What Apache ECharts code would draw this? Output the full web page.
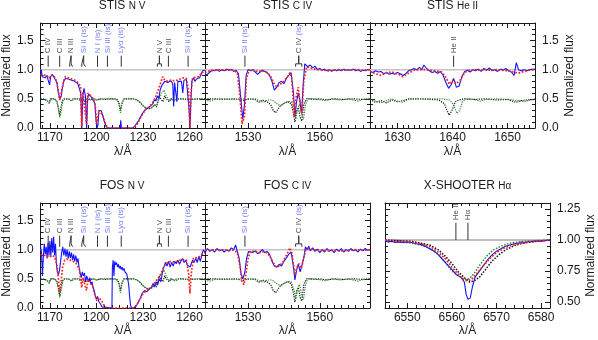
<!DOCTYPE html>
<html>
<head>
<meta charset="utf-8">
<script src="https://cdn.jsdelivr.net/npm/echarts@6/dist/echarts.min.js"></script>
<style>
  html, body { margin: 0; padding: 0; background: #fff; }
  #spectra { width: 598px; height: 340px; }
</style>
</head>
<body>
<div id="spectra"></div>
<script>
// ---- tick labels ----
const nvTicks = [1170, 1200, 1230, 1260];
const civTicks = [1530, 1560];
const heiiTicks = [1630, 1640, 1650];
const haTicks = [6550, 6560, 6570, 6580];
const fluxTicks = [0, 0.5, 1, 1.5];
const haFluxTicks = [0.5, 0.75, 1, 1.25];

// ---- STIS N V ----
const stisNvObs = [[1164,0.93],[1164.5,1.0],[1165,0.88],[1166,0.9],[1167,0.86],[1168,0.9],[1169,0.87],[1169.8,0.74],[1170.5,0.88],[1171.5,0.92],[1172.5,0.88],[1173.5,0.85],[1174.5,0.78],[1175.5,0.6],[1176.5,0.5],[1177.3,0.55],[1178,0.68],[1179,0.8],[1180,0.85],[1181,0.88],[1182,0.84],[1183,0.86],[1184,0.82],[1185,0.84],[1186,0.8],[1187,0.79],[1188,0.76],[1189,0.74],[1189.9,0.6],[1190.6,0.0],[1191.2,0.55],[1192,0.68],[1192.9,0.55],[1193.7,0.0],[1194.3,0.5],[1195,0.58],[1196,0.55],[1197,0.52],[1198,0.5],[1199,0.42],[1199.7,0.15],[1200.4,0.0],[1201,0.05],[1201.6,0.3],[1202.3,0.33],[1203,0.3],[1204,0.22],[1205,0.12],[1206,0.04],[1207,0.0],[1215.3,0.0],[1215.7,0.13],[1216.1,0.0],[1223.5,0.0],[1225,0.04],[1227,0.12],[1229,0.22],[1231,0.3],[1233,0.34],[1235,0.38],[1236.5,0.42],[1237.5,0.5],[1238.3,0.46],[1239.3,0.55],[1240.2,0.5],[1241,0.64],[1242,0.72],[1243,0.76],[1244,0.8],[1245,0.82],[1246,0.78],[1247,0.8],[1248,0.81],[1249.2,0.76],[1249.8,0.37],[1250.4,0.78],[1251.2,0.8],[1251.9,0.45],[1252.5,0.8],[1253.5,0.83],[1254.8,0.8],[1255.7,0.6],[1256.4,0.82],[1257.2,0.85],[1258,0.83],[1259,0.8],[1259.8,0.3],[1260.3,0.0],[1260.8,0.4],[1261.5,0.8],[1262.5,0.86],[1263.5,0.8],[1264.5,0.84],[1265.5,0.82],[1266.5,0.86],[1267.5,0.92],[1268.5,0.98],[1269.3,0.97],[1270,0.99]];
const stisNvFit = [[1164,0.9],[1166,0.91],[1168,0.9],[1169.5,0.85],[1170.5,0.9],[1172,0.9],[1173.5,0.86],[1174.5,0.78],[1175.5,0.62],[1176.3,0.48],[1177,0.55],[1178,0.7],[1179,0.82],[1180,0.88],[1182,0.86],[1184,0.84],[1186,0.82],[1188,0.78],[1189.7,0.72],[1190.5,0.03],[1191.3,0.62],[1192.4,0.63],[1193.6,0.07],[1194.4,0.6],[1196,0.56],[1198,0.5],[1199.2,0.4],[1200.1,0.07],[1200.9,0.1],[1201.7,0.3],[1202.6,0.33],[1204,0.22],[1205.5,0.1],[1207,0.0],[1224,0.0],[1226,0.05],[1228,0.15],[1230,0.25],[1232,0.33],[1234,0.36],[1236,0.42],[1238,0.52],[1240,0.66],[1241.5,0.78],[1242.7,0.88],[1244,0.82],[1246,0.8],[1248,0.82],[1250,0.81],[1252,0.82],[1254,0.84],[1256,0.86],[1258,0.85],[1259.5,0.6],[1260.3,0.0],[1261,0.6],[1262,0.86],[1264,0.87],[1266,0.88],[1268,0.95],[1270,0.97]];
// model spectra shifted to 0.5 (shared by STIS and FOS panels)
const nvModelBlack = [[1164,0.5],[1166,0.49],[1168,0.48],[1169.5,0.43],[1170.5,0.5],[1173,0.5],[1174.5,0.46],[1175.5,0.35],[1176.3,0.2],[1177,0.32],[1178,0.46],[1179,0.5],[1182,0.5],[1183.5,0.47],[1185,0.5],[1188,0.5],[1190,0.47],[1191.5,0.5],[1193,0.44],[1194,0.5],[1196,0.49],[1198,0.5],[1200,0.48],[1202,0.5],[1206,0.49],[1208,0.5],[1213,0.5],[1214.5,0.44],[1215.5,0.3],[1216.5,0.44],[1218,0.5],[1224,0.5],[1226,0.48],[1228,0.44],[1230,0.38],[1232,0.34],[1234,0.33],[1236,0.35],[1237.5,0.4],[1238.8,0.36],[1239.5,0.45],[1240.5,0.55],[1241.5,0.5],[1242.8,0.45],[1244,0.55],[1245,0.5],[1247,0.45],[1248,0.5],[1250,0.48],[1252,0.5],[1255,0.5],[1258,0.49],[1260,0.5],[1263,0.49],[1266,0.5],[1270,0.5]];
const nvModelGreen = [[1164,0.5],[1166,0.5],[1168,0.47],[1169.5,0.42],[1170.5,0.5],[1173,0.5],[1174.5,0.45],[1175.5,0.32],[1176.5,0.18],[1177.3,0.3],[1178.3,0.46],[1179.5,0.5],[1182,0.5],[1184,0.46],[1186,0.5],[1189,0.5],[1191,0.47],[1193,0.5],[1196,0.48],[1198,0.5],[1201,0.48],[1203,0.5],[1210,0.5],[1213.5,0.48],[1214.7,0.38],[1215.5,0.26],[1216.3,0.38],[1217.5,0.5],[1224,0.5],[1227,0.47],[1229,0.42],[1231,0.36],[1233,0.33],[1235,0.34],[1237,0.38],[1239,0.4],[1240.5,0.5],[1242,0.6],[1243.5,0.65],[1245,0.55],[1246.5,0.48],[1248,0.5],[1251,0.46],[1253,0.5],[1257,0.5],[1260,0.48],[1263,0.5],[1270,0.5]];

// ---- FOS N V ----
const fosNvObs = [[1164,1.05],[1164.6,0.95],[1165.2,0.55],[1165.8,0.9],[1166.4,1.1],[1167,0.92],[1167.6,1.05],[1168.2,0.85],[1168.8,1.12],[1169.4,0.9],[1170,1.15],[1170.6,0.88],[1171.2,1.2],[1171.8,0.95],[1172.4,1.22],[1173,0.9],[1173.6,1.1],[1174.2,0.75],[1174.8,0.62],[1175.5,0.57],[1176.2,0.65],[1176.9,0.8],[1177.6,0.95],[1178.3,1.05],[1179,0.9],[1179.7,1.02],[1180.4,0.88],[1181.1,1.0],[1181.8,0.85],[1182.5,0.97],[1183.2,0.86],[1183.9,0.95],[1184.6,0.82],[1185.3,0.92],[1186,0.8],[1186.7,0.9],[1187.4,0.78],[1188.1,0.85],[1188.8,0.7],[1189.5,0.6],[1190.2,0.52],[1190.9,0.62],[1191.6,0.55],[1192.3,0.6],[1193,0.45],[1193.7,0.55],[1194.4,0.5],[1195.1,0.45],[1195.8,0.52],[1196.5,0.4],[1197.2,0.45],[1197.9,0.35],[1198.6,0.3],[1199.3,0.2],[1200,0.15],[1200.7,0.2],[1201.4,0.12],[1202.1,0.1],[1202.8,0.06],[1203.5,0.02],[1204.5,0.0],[1210,0.0],[1210.3,0.7],[1210.8,0.82],[1211.3,0.55],[1211.8,0.8],[1212.4,0.74],[1213,0.78],[1213.6,0.7],[1214.2,0.75],[1214.8,0.68],[1215.4,0.72],[1216,0.66],[1216.6,0.7],[1217.2,0.64],[1217.8,0.68],[1218.4,0.62],[1219,0.64],[1219.6,0.58],[1220.2,0.55],[1220.8,0.4],[1221.4,0.2],[1222,0.05],[1222.6,0.0],[1224,0.0],[1226,0.05],[1228,0.15],[1229.5,0.25],[1231,0.3],[1232.5,0.28],[1234,0.32],[1235.5,0.35],[1236.5,0.42],[1237.5,0.36],[1238.5,0.45],[1239.5,0.4],[1240.5,0.5],[1241.5,0.45],[1242.5,0.6],[1243.5,0.7],[1244.5,0.78],[1245.5,0.72],[1246.5,0.8],[1247.5,0.7],[1248.5,0.78],[1249.5,0.72],[1250.5,0.8],[1251.5,0.76],[1252.5,0.82],[1253.5,0.75],[1254.5,0.8],[1255.5,0.85],[1256.5,0.78],[1257.5,0.82],[1258.5,0.74],[1259.5,0.75],[1260.3,0.7],[1261,0.75],[1262,0.82],[1263,0.78],[1264,0.85],[1265,0.78],[1266,0.88],[1267,0.8],[1268,0.92],[1269,1.0],[1270,0.95]];
const fosNvFit = [[1164,0.92],[1166,0.9],[1168,0.9],[1169.5,0.87],[1171,0.9],[1173,0.88],[1174.5,0.75],[1175.5,0.5],[1176.3,0.28],[1177.2,0.45],[1178.2,0.7],[1179.5,0.82],[1181,0.84],[1183,0.82],[1185,0.8],[1187,0.76],[1189,0.66],[1190.5,0.35],[1191.4,0.52],[1192.4,0.5],[1193.6,0.3],[1194.6,0.48],[1196,0.45],[1197.5,0.38],[1199,0.22],[1200.3,0.12],[1201.3,0.18],[1202.2,0.2],[1203.5,0.12],[1205,0.04],[1206.5,0.0],[1224,0.0],[1226,0.05],[1228,0.15],[1230,0.24],[1232,0.3],[1234,0.32],[1236,0.38],[1238,0.45],[1240,0.52],[1241.5,0.58],[1243,0.68],[1244.5,0.75],[1246,0.78],[1248,0.8],[1250,0.79],[1252,0.8],[1254,0.82],[1256,0.83],[1258,0.82],[1259.4,0.6],[1260.3,0.25],[1261.2,0.6],[1262.5,0.85],[1264,0.86],[1266,0.87],[1268,0.92],[1270,0.95]];

// ---- STIS / FOS C IV ----
const stisCivObs = [[1512,0.9],[1513,0.92],[1514,0.96],[1515,0.99],[1516,0.98],[1517,1.0],[1518,0.97],[1519,1.0],[1520,0.98],[1521,1.01],[1522,0.99],[1523,1.0],[1524,0.97],[1525,0.99],[1526,0.93],[1527,0.5],[1527.8,0.15],[1528.5,0.4],[1529.2,0.9],[1530,1.0],[1531,0.98],[1532,1.0],[1533,0.96],[1534,0.92],[1535,0.96],[1536,0.99],[1537,0.97],[1538,0.95],[1539,0.9],[1540,0.8],[1541,0.65],[1542,0.7],[1543,0.78],[1544,0.8],[1545,0.76],[1546,0.85],[1547,0.9],[1548,0.95],[1549,0.6],[1549.6,0.2],[1550.3,0.45],[1551,0.6],[1551.6,0.5],[1552.4,0.25],[1553,0.7],[1553.7,1.1],[1554.2,1.13],[1555,1.05],[1556,1.08],[1557,1.03],[1558,1.06],[1559,1.0],[1560,1.02],[1561,0.99],[1562,1.01],[1563,0.98],[1564,1.0],[1565,0.97],[1566,1.0],[1567,0.98],[1568,1.0],[1569,0.98],[1570,1.01],[1571,0.99],[1572,1.0],[1573,0.99],[1574,1.01],[1575,0.98],[1576,1.0],[1577,0.97],[1578,0.99],[1579,0.98],[1580,1.0],[1581,1.0]];
const stisCivFit = [[1512,0.95],[1514,0.98],[1516,0.99],[1518,1.0],[1520,0.99],[1522,1.0],[1524,0.99],[1525.5,0.95],[1526.5,0.6],[1527.5,0.07],[1528.5,0.2],[1529.3,0.85],[1530.5,0.99],[1532,0.99],[1534,0.97],[1536,0.98],[1538,0.95],[1539.5,0.88],[1541,0.75],[1542,0.7],[1543.5,0.75],[1545,0.8],[1546.5,0.88],[1547.5,0.95],[1548.3,0.85],[1549.3,0.2],[1550.2,0.55],[1551,0.7],[1551.8,0.4],[1552.5,0.25],[1553.3,0.8],[1554.5,1.05],[1556,1.03],[1558,1.01],[1560,1.0],[1562,0.99],[1564,0.98],[1566,0.99],[1568,1.0],[1570,0.99],[1572,0.99],[1574,1.0],[1576,1.0],[1578,0.99],[1581,1.0]];
const fosCivObs = [[1512,0.95],[1513,1.02],[1514,0.97],[1515,1.0],[1516,0.96],[1517,1.02],[1518,0.98],[1519,1.0],[1520,0.96],[1521,1.0],[1522,0.97],[1523,1.03],[1524,1.0],[1524.8,1.08],[1525.5,0.97],[1526.3,0.85],[1527,0.6],[1527.8,0.5],[1528.6,0.6],[1529.4,0.85],[1530.2,0.97],[1531,1.0],[1532,0.95],[1533,0.98],[1534,0.93],[1535,0.96],[1536,1.0],[1537,0.95],[1538,0.97],[1539,0.92],[1540,0.8],[1541,0.72],[1542,0.7],[1543,0.75],[1544,0.72],[1545,0.8],[1546,0.86],[1547,0.92],[1548,0.96],[1549,0.7],[1549.6,0.48],[1550.3,0.65],[1551,0.75],[1551.8,0.62],[1552.5,0.6],[1553.3,0.85],[1554,1.05],[1554.7,1.0],[1555.4,1.06],[1556,0.98],[1557,1.03],[1558,0.97],[1559,1.01],[1560,0.95],[1561,1.0],[1562,0.96],[1563,1.02],[1564,0.97],[1565,1.0],[1566,0.95],[1567,1.01],[1568,0.97],[1569,1.02],[1570,0.96],[1571,1.0],[1572,0.97],[1573,1.02],[1574,0.98],[1575,1.0],[1576,0.96],[1577,1.01],[1578,0.98],[1579,1.02],[1580,0.99],[1581,1.0]];
const fosCivFit = [[1512,1.0],[1514,0.99],[1516,1.0],[1518,0.99],[1520,1.0],[1522,0.99],[1524,0.99],[1525.5,0.95],[1526.5,0.75],[1527.5,0.45],[1528.3,0.4],[1529,0.55],[1530,0.85],[1531,0.97],[1533,0.97],[1535,0.95],[1537,0.97],[1539,0.9],[1540.5,0.78],[1541.8,0.7],[1543,0.72],[1544.5,0.78],[1546,0.9],[1547.5,1.03],[1548.3,0.95],[1549.6,0.57],[1550.5,0.7],[1551.3,0.76],[1552.3,0.68],[1553.2,0.85],[1554.2,1.0],[1555.5,1.02],[1557,1.0],[1560,0.99],[1563,0.98],[1566,0.99],[1569,0.98],[1572,0.99],[1575,1.0],[1578,0.99],[1581,1.0]];
const civModelBlack = [[1512,0.5],[1516,0.5],[1520,0.49],[1524,0.5],[1526,0.49],[1528,0.47],[1530,0.5],[1533,0.49],[1534.5,0.44],[1536,0.48],[1538,0.45],[1539.5,0.4],[1540.5,0.3],[1541.5,0.26],[1542.5,0.32],[1543.5,0.38],[1545,0.42],[1546.5,0.45],[1548,0.42],[1549,0.25],[1549.6,0.1],[1550.3,0.3],[1551,0.35],[1551.8,0.18],[1552.5,0.12],[1553.3,0.4],[1554.5,0.5],[1556,0.5],[1558,0.49],[1560,0.5],[1563,0.48],[1566,0.5],[1570,0.49],[1574,0.5],[1578,0.49],[1581,0.5]];
const civModelGreen = [[1512,0.48],[1514,0.46],[1516,0.49],[1520,0.5],[1524,0.49],[1527,0.5],[1530,0.49],[1533,0.5],[1535,0.46],[1536.5,0.44],[1538,0.48],[1540,0.48],[1542,0.42],[1543.5,0.38],[1545,0.42],[1546.5,0.46],[1548,0.45],[1549.3,0.3],[1550,0.15],[1550.8,0.35],[1551.6,0.4],[1552.5,0.2],[1553.2,0.15],[1554,0.4],[1555,0.5],[1558,0.5],[1562,0.47],[1565,0.5],[1569,0.48],[1572,0.5],[1576,0.46],[1578,0.49],[1581,0.5]];

// ---- STIS He II ----
const stisHeiiObs = [[1625,0.97],[1625.5,0.95],[1626,0.98],[1626.5,0.96],[1627,0.97],[1627.5,0.93],[1628,0.95],[1628.5,0.92],[1629,0.94],[1629.5,0.92],[1630,0.95],[1630.5,0.93],[1631,0.9],[1631.5,0.93],[1632,0.98],[1632.5,1.0],[1633,1.02],[1633.5,1.0],[1634,1.04],[1634.4,1.0],[1634.8,1.08],[1635.3,1.02],[1635.8,0.98],[1636.3,0.95],[1636.8,0.97],[1637.3,0.94],[1637.8,0.97],[1638.3,0.9],[1638.8,0.78],[1639.3,0.68],[1639.8,0.75],[1640.2,0.85],[1640.7,0.7],[1641.2,0.72],[1641.7,0.88],[1642.2,0.97],[1642.7,0.99],[1643.2,0.96],[1643.7,1.0],[1644.2,0.98],[1644.7,1.01],[1645.2,0.97],[1645.7,1.02],[1646.2,0.99],[1646.7,1.03],[1647.2,0.98],[1647.7,1.0],[1648.2,0.97],[1648.7,1.01],[1649.2,0.99],[1649.7,1.02],[1650.2,0.98],[1650.7,0.96],[1651.2,0.9],[1651.6,1.12],[1652,1.0],[1652.5,0.98],[1653,1.0],[1653.5,0.98],[1654,1.0],[1655,1.01]];
const stisHeiiFit = [[1625,0.97],[1626,0.93],[1627,0.9],[1628,0.95],[1629,0.96],[1630,0.93],[1631,0.88],[1632,0.94],[1633,0.99],[1634,1.0],[1635,1.0],[1636,0.99],[1637,0.98],[1638,0.96],[1638.8,0.87],[1639.4,0.75],[1640,0.82],[1640.7,0.76],[1641.4,0.82],[1642.2,0.95],[1643,0.99],[1644,1.0],[1645,0.99],[1646,1.0],[1647,0.99],[1648,1.0],[1649,0.99],[1650,0.98],[1651,0.96],[1652,0.94],[1653,0.97],[1654,0.99],[1655,1.0]];
const heiiModelBlack = [[1625,0.49],[1626,0.44],[1627,0.47],[1628,0.43],[1629,0.48],[1630,0.45],[1631,0.47],[1632,0.5],[1634,0.5],[1636,0.49],[1637.5,0.48],[1638.5,0.42],[1639,0.3],[1639.4,0.22],[1639.9,0.3],[1640.5,0.45],[1641.2,0.48],[1642,0.5],[1644,0.49],[1646,0.5],[1648,0.48],[1650,0.49],[1651.5,0.44],[1652.5,0.47],[1653.5,0.48],[1655,0.49]];
const heiiModelGreen = [[1625,0.5],[1626,0.46],[1627,0.43],[1628,0.47],[1629,0.5],[1630,0.46],[1631,0.44],[1632,0.49],[1634,0.5],[1636,0.5],[1638,0.5],[1639.5,0.48],[1640.2,0.4],[1640.8,0.25],[1641.3,0.3],[1641.8,0.45],[1642.5,0.5],[1644,0.49],[1645,0.46],[1646,0.49],[1648,0.5],[1650,0.49],[1652,0.47],[1653,0.45],[1654,0.48],[1655,0.5]];

// ---- X-SHOOTER H alpha ----
const xsHaObs = [[6545,0.99],[6545.8,0.985],[6546.5,0.99],[6547.3,0.98],[6548,0.985],[6549,0.98],[6550,0.985],[6551,0.98],[6552,0.97],[6553,0.965],[6554,0.95],[6555,0.93],[6556,0.91],[6557,0.88],[6558,0.84],[6559,0.8],[6560,0.76],[6561,0.72],[6562,0.7],[6562.8,0.66],[6563.2,0.56],[6563.6,0.52],[6564.1,0.53],[6564.6,0.62],[6565.2,0.7],[6566,0.74],[6567,0.79],[6568,0.84],[6569,0.88],[6570,0.91],[6571,0.93],[6572,0.95],[6573,0.96],[6574,0.97],[6575,0.975],[6575.5,0.985],[6576,0.975],[6577,0.985],[6578,0.99],[6580,0.99],[6582,1.0]];
const xsHaFit = [[6545,1.0],[6548,0.995],[6551,0.985],[6553,0.97],[6555,0.95],[6557,0.9],[6558.5,0.85],[6560,0.78],[6561.5,0.72],[6562.6,0.68],[6563.5,0.67],[6564.4,0.68],[6565.4,0.72],[6567,0.79],[6568.5,0.85],[6570,0.9],[6572,0.94],[6574,0.965],[6576,0.98],[6579,0.99],[6582,1.0]];
const haModelBlack = [[6545,1.0],[6548,0.995],[6551,0.99],[6553,0.975],[6555,0.96],[6557,0.92],[6558.5,0.87],[6560,0.81],[6561.5,0.74],[6563,0.69],[6564,0.66],[6565,0.67],[6566.2,0.7],[6567.5,0.76],[6569,0.83],[6570.5,0.88],[6572,0.92],[6574,0.955],[6576,0.975],[6579,0.99],[6582,1.0]];
const haModelGreen = [[6545,0.99],[6548,0.985],[6551,0.975],[6553,0.96],[6555,0.935],[6557,0.88],[6558.5,0.82],[6560,0.75],[6561.5,0.71],[6562.5,0.69],[6563.1,0.68],[6564,0.69],[6565,0.73],[6566.3,0.8],[6567.8,0.87],[6569.3,0.92],[6571,0.95],[6573,0.975],[6576,0.99],[6579,0.995],[6582,1.0]];

// ---- line identifications ----
const nvIdNames = ['C IV', 'C III', 'N III', 'Si II (is)', 'N I (is)', 'Si III (is)', 'Lyα (is)', 'N V', 'C III', 'Si II (is)'];
const nvIdWaves = [1168.9, 1176.3, 1183.7, 1191.8, 1200.7, 1207.1, 1216.0, 1240.6, 1246.4, 1259.1];
const nvIdKinds = ['ph', 'ph', 'ph', 'is', 'is', 'is', 'is', 'ph', 'ph', 'is'];
const nvIdFork = [0, 0, 1.8, 2.4, 0, 0, 0, 2.6, 0, 0];
const civIdNames = ['Si II (is)', 'C IV (is)'];
const civIdWaves = [1528.7, 1551.2];
const civIdKinds = ['is', 'mix'];
const civIdFork = [0, 2.6];
const heiiIdNames = ['He II'];
const heiiIdWaves = [1640.2];
const haIdNames = ['He II', 'Hα'];
const haIdWaves = [6560.9, 6563.6];

const FONT = '"Liberation Sans", Arial, Helvetica, sans-serif';
const INK = '#1a1a1a';
const OBS = '#1414ff';
const FIT = '#ff1c1c';
const MODB = '#111111';
const MODG = '#2a8a2a';
const IS_BLUE = '#4c5cf2';

const panels = [
  { title: 'STIS {i|N V}', left: 39, top: 23, width: 166, x: [1164, 1270], xt: nvTicks, xm: 5, y: [0, 1.8], yt: fluxTicks, ym: 0.1, yl: 'left', dec: 1 },
  { title: 'STIS {i|C IV}', left: 205, top: 23, width: 165, x: [1512, 1581], xt: civTicks, xm: 3, y: [0, 1.8], yt: fluxTicks, ym: 0.1, yl: null, dec: 1 },
  { title: 'STIS {i|He II}', left: 370, top: 23, width: 165, x: [1625, 1655], xt: heiiTicks, xm: 1, y: [0, 1.8], yt: fluxTicks, ym: 0.1, yl: 'right', dec: 1 },
  { title: 'FOS {i|N V}', left: 39, top: 203, width: 166, x: [1164, 1270], xt: nvTicks, xm: 5, y: [0, 1.8], yt: fluxTicks, ym: 0.1, yl: 'left', dec: 1 },
  { title: 'FOS {i|C IV}', left: 205, top: 203, width: 165, x: [1512, 1581], xt: civTicks, xm: 3, y: [0, 1.8], yt: fluxTicks, ym: 0.1, yl: null, dec: 1 },
  { title: 'X-SHOOTER {i|Hα}', left: 385, top: 203, width: 165, x: [6545, 6582], xt: haTicks, xm: 2, y: [0.45, 1.3], yt: haFluxTicks, ym: 0.05, yl: 'right', dec: 2 }
];
const PANEL_H = 105;

function stepValues(lo, hi, step, skip) {
  const out = [];
  for (let k = Math.ceil(lo / step - 1e-6); k * step <= hi + 1e-6; k++) {
    const v = +(k * step).toFixed(4);
    if (!skip.some(m => Math.abs(m - v) < 1e-6)) out.push(v);
  }
  return out;
}

// one labelled/major axis plus one minor-tick axis at the same side
function axisPair(gi, pos, range, major, minorStep, labels, fmt, extra) {
  const base = { type: 'value', gridIndex: gi, position: pos, min: range[0], max: range[1], splitLine: { show: false }, silent: true };
  const main = Object.assign({}, base, {
    axisLine: { show: true, onZero: false, lineStyle: { color: INK, width: 1 } },
    axisTick: { show: true, inside: true, length: 5, customValues: major, lineStyle: { color: INK } },
    axisLabel: { show: labels, customValues: major, formatter: fmt, color: INK, fontSize: 12, fontFamily: FONT,
      margin: (pos === 'bottom' || pos === 'top') ? 4 : 7 }
  }, extra || {});
  const minor = Object.assign({}, base, {
    axisLine: { show: false, onZero: false },
    axisTick: { show: true, inside: true, length: 3, customValues: stepValues(range[0], range[1], minorStep, major), lineStyle: { color: INK } },
    axisLabel: { show: false }
  });
  return [main, minor];
}

const grid = [], xAxis = [], yAxis = [], title = [], series = [];
const XI = [], YI = [];
const nameStyle = { fontSize: 12, color: INK, fontFamily: FONT };

panels.forEach((p, g) => {
  grid.push({ left: p.left, top: p.top, width: p.width, height: PANEL_H });
  title.push({ text: p.title, left: p.left + p.width / 2, top: p.top - 23, textAlign: 'center', padding: 0,
    textStyle: { fontSize: 12, fontWeight: 'normal', color: INK, fontFamily: FONT, rich: { i: { fontSize: 10, color: INK, fontFamily: FONT } } } });
  const fmtX = v => String(v);
  const fmtY = v => v.toFixed(p.dec);
  const yName = { name: 'Normalized flux', nameLocation: 'middle', nameRotate: 90, nameTextStyle: nameStyle };
  XI.push(xAxis.length);
  xAxis.push(...axisPair(g, 'bottom', p.x, p.xt, p.xm, true, fmtX,
    { name: 'λ/Å', nameLocation: 'middle', nameGap: p.top < 100 ? 18 : 15, nameTextStyle: nameStyle }));
  xAxis.push(...axisPair(g, 'top', p.x, p.xt, p.xm, false, fmtX));
  YI.push(yAxis.length);
  yAxis.push(...axisPair(g, 'left', p.y, p.yt, p.ym, p.yl === 'left', fmtY,
    p.yl === 'left' ? Object.assign({ nameGap: 26 }, yName) : null));
  yAxis.push(...axisPair(g, 'right', p.y, p.yt, p.ym, p.yl === 'right', fmtY,
    p.yl === 'right' ? Object.assign({ nameGap: p.dec === 2 ? 33 : 29 }, yName) : null));
});

function on(g) { return { xAxisIndex: XI[g], yAxisIndex: YI[g] }; }

function spectrum(g, data, color, dotted, width, z) {
  series.push(Object.assign({ type: 'line', data, showSymbol: false, symbol: 'none', silent: true, z,
    lineStyle: { color, width, type: dotted ? 'dotted' : 'solid' } }, on(g)));
}

function continuum(g, color) {
  const r = panels[g].x;
  series.push(Object.assign({ type: 'line', data: [[r[0], 1], [r[1], 1]], showSymbol: false, symbol: 'none', silent: true, z: 1,
    lineStyle: { color, width: 1.5 } }, on(g)));
}

function idLabel(d) {
  if (d.kind === 'is') return '{b|' + d.name + '}';
  if (d.kind === 'mix') return '{k|' + d.name.replace(' (is)', '') + '} {b|(is)}';
  return '{k|' + d.name + '}';
}

function identifications(g, names, waves, kinds, forks, lo, mid, hi, size) {
  waves.forEach((w, k) => {
    const f = forks ? forks[k] / 2 : 0;
    const path = f ? [[w - f, lo], [w - f, mid], [w, mid], [w, hi], [w, mid], [w + f, mid], [w + f, lo]] : [[w, lo], [w, hi]];
    series.push(Object.assign({ type: 'line', data: path, showSymbol: false, symbol: 'none', silent: true, z: 6,
      lineStyle: { color: '#333', width: 1 } }, on(g)));
  });
  series.push(Object.assign({
    type: 'scatter', silent: true, z: 7, symbolSize: 1, itemStyle: { color: 'rgba(0,0,0,0)' },
    data: waves.map((w, k) => ({ value: [w, hi], name: names[k], kind: kinds ? kinds[k] : 'ph' })),
    label: { show: true, position: 'top', distance: 2, rotate: 90, align: 'left', verticalAlign: 'middle',
      fontSize: size, fontFamily: FONT, color: INK, formatter: p => idLabel(p.data),
      rich: { k: { color: INK, fontSize: size, fontFamily: FONT }, b: { color: IS_BLUE, fontSize: size, fontFamily: FONT } } }
  }, on(g)));
}

// top row: STIS
continuum(0, '#c4c4c4');
spectrum(0, nvModelBlack, MODB, true, 1.2, 2);
spectrum(0, nvModelGreen, MODG, true, 1.2, 3);
spectrum(0, stisNvObs, OBS, false, 1.1, 4);
spectrum(0, stisNvFit, FIT, true, 1.7, 5);
identifications(0, nvIdNames, nvIdWaves, nvIdKinds, nvIdFork, 1.05, 1.1, 1.24, 8);

continuum(1, '#c4c4c4');
spectrum(1, civModelBlack, MODB, true, 1.2, 2);
spectrum(1, civModelGreen, MODG, true, 1.2, 3);
spectrum(1, stisCivObs, OBS, false, 1.1, 4);
spectrum(1, stisCivFit, FIT, true, 1.7, 5);
identifications(1, civIdNames, civIdWaves, civIdKinds, civIdFork, 1.05, 1.1, 1.24, 8);

continuum(2, '#c4c4c4');
spectrum(2, heiiModelBlack, MODB, true, 1.2, 2);
spectrum(2, heiiModelGreen, MODG, true, 1.2, 3);
spectrum(2, stisHeiiObs, OBS, false, 1.1, 4);
spectrum(2, stisHeiiFit, FIT, true, 1.7, 5);
identifications(2, heiiIdNames, heiiIdWaves, null, null, 1.05, 1.1, 1.24, 8);

// bottom row: FOS and X-SHOOTER
continuum(3, '#c4c4c4');
spectrum(3, nvModelBlack, MODB, true, 1.2, 2);
spectrum(3, nvModelGreen, MODG, true, 1.2, 3);
spectrum(3, fosNvObs, OBS, false, 1.1, 4);
spectrum(3, fosNvFit, FIT, true, 1.7, 5);
identifications(3, nvIdNames, nvIdWaves, nvIdKinds, nvIdFork, 1.05, 1.1, 1.24, 8);

continuum(4, '#c4c4c4');
spectrum(4, civModelBlack, MODB, true, 1.2, 2);
spectrum(4, civModelGreen, MODG, true, 1.2, 3);
spectrum(4, fosCivObs, OBS, false, 1.1, 4);
spectrum(4, fosCivFit, FIT, true, 1.7, 5);
identifications(4, civIdNames, civIdWaves, civIdKinds, civIdFork, 1.05, 1.1, 1.24, 8);

continuum(5, '#a8a8a8');
spectrum(5, haModelGreen, MODG, true, 1.5, 2);
spectrum(5, haModelBlack, MODB, true, 1.5, 3);
spectrum(5, xsHaObs, OBS, false, 1.1, 4);
spectrum(5, xsHaFit, FIT, true, 1.7, 5);
identifications(5, haIdNames, haIdWaves, null, null, 1.0, 1.07, 1.14, 8);

const chart = echarts.init(document.getElementById('spectra'), null, { renderer: 'canvas' });
chart.setOption({
  animation: false,
  backgroundColor: '#ffffff',
  title, grid, xAxis, yAxis, series
});
</script>
</body>
</html>
